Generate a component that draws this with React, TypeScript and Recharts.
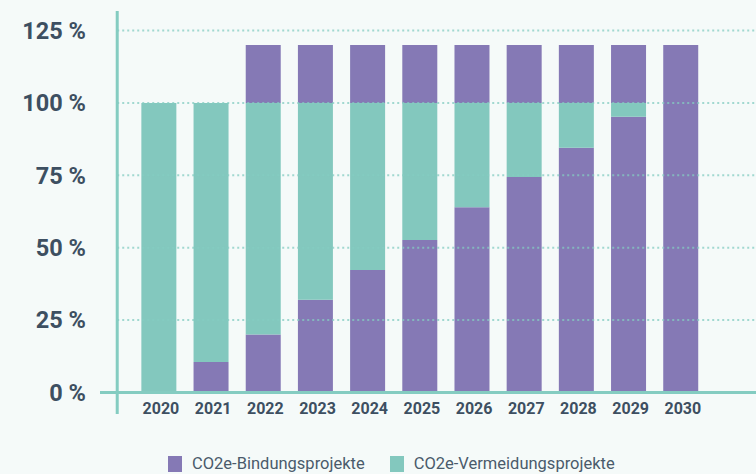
import { BarChart, Bar, XAxis, YAxis, ReferenceLine, Legend } from "recharts";

const years = [2020, 2021, 2022, 2023, 2024, 2025, 2026, 2027, 2028, 2029, 2030];
const bindung = [0, 10.5, 20, 32, 42.3, 52.7, 64, 74.4, 84.5, 95.2, 100];
const vermeidung = [100, 89.5, 80, 68, 57.7, 47.3, 36, 25.6, 15.5, 4.8, 0];
const bindungZusatz = [0, 0, 20, 20, 20, 20, 20, 20, 20, 20, 20];
const yTicks = [0, 25, 50, 75, 100, 125];

const PURPLE = "#8579b5";
const TEAL = "#83c8be";
const AXIS = "#84ccc1";
const LABEL = "#3d4f61";

const data = years.map((year, i) => ({
  year,
  bindung: bindung[i],
  vermeidung: vermeidung[i],
  zusatz: bindungZusatz[i],
}));

// domain chosen so the plot area spans x=100..756
const X_MIN = 2018.88;
const X_MAX = 2031.45;
const Y_AXIS_AT = 2019.21;

function XTick({ x, y, payload }: any) {
  return (
    <text x={x + 2.5} y={y} textAnchor="middle" fontSize={16} fontWeight={700} fill={LABEL}>
      {payload.value}
    </text>
  );
}

function LegendContent({ payload }: any) {
  const items = (payload || []).filter((p: any) => p.type !== "none");
  return (
    <div style={{ display: "flex", alignItems: "flex-start" }}>
      {items.map((p: any, i: number) => (
        <div key={p.value} style={{ display: "flex", alignItems: "flex-start", marginRight: i === 0 ? 25 : 0 }}>
          <span style={{ width: 14, height: 16, marginTop: 2, background: p.color, display: "inline-block" }} />
          <span style={{ marginLeft: 10, fontSize: 16.5, lineHeight: "20px", color: "#4a5b6b" }}>{p.value}</span>
        </div>
      ))}
    </div>
  );
}

export default function App() {
  return (
    <div
      style={{
        position: "absolute",
        left: 0,
        top: 0,
        width: 756,
        height: 474,
        background: "#f5faf9",
        fontFamily: "Roboto, sans-serif",
        overflow: "hidden",
      }}
    >
      <BarChart width={756} height={474} data={data} margin={{ top: 11, right: 0, left: 0, bottom: 0 }} barSize={35}>
        <XAxis
          dataKey="year"
          type="number"
          domain={[X_MIN, X_MAX]}
          allowDataOverflow
          ticks={years}
          interval={0}
          axisLine={false}
          tickLine={false}
          tickSize={0}
          tickMargin={0}
          height={60}
          tick={<XTick />}
        />
        <YAxis
          type="number"
          domain={[0, 125]}
          ticks={yTicks}
          width={100}
          padding={{ top: 19.5, bottom: 21.5 }}
          axisLine={false}
          tickLine={false}
          tickSize={0}
          tickMargin={14}
          tickFormatter={(v) => `${v} %`}
          tick={{ fontSize: 23.5, fontWeight: 700, fill: LABEL }}
        />
        <Bar dataKey="bindung" name="CO2e-Bindungsprojekte" stackId="a" fill={PURPLE} isAnimationActive={false} />
        <Bar dataKey="vermeidung" name="CO2e-Vermeidungsprojekte" stackId="a" fill={TEAL} isAnimationActive={false} />
        <Bar dataKey="zusatz" name="zusatz" stackId="a" fill={PURPLE} legendType="none" isAnimationActive={false} />
        {yTicks
          .filter((t) => t > 0)
          .map((t) => (
            <ReferenceLine
              key={t}
              segment={[
                { x: Y_AXIS_AT, y: t },
                { x: X_MAX, y: t },
              ]}
              stroke={AXIS}
              strokeOpacity={0.75}
              strokeWidth={2}
              strokeDasharray="2 3"
            />
          ))}
        <ReferenceLine y={0} stroke={AXIS} strokeWidth={3} />
        <ReferenceLine x={Y_AXIS_AT} stroke={AXIS} strokeWidth={3} />
        <Legend
          layout="horizontal"
          verticalAlign="middle"
          align="center"
          wrapperStyle={{ top: 454, left: 168, width: "auto" }}
          content={<LegendContent />}
        />
      </BarChart>
    </div>
  );
}
